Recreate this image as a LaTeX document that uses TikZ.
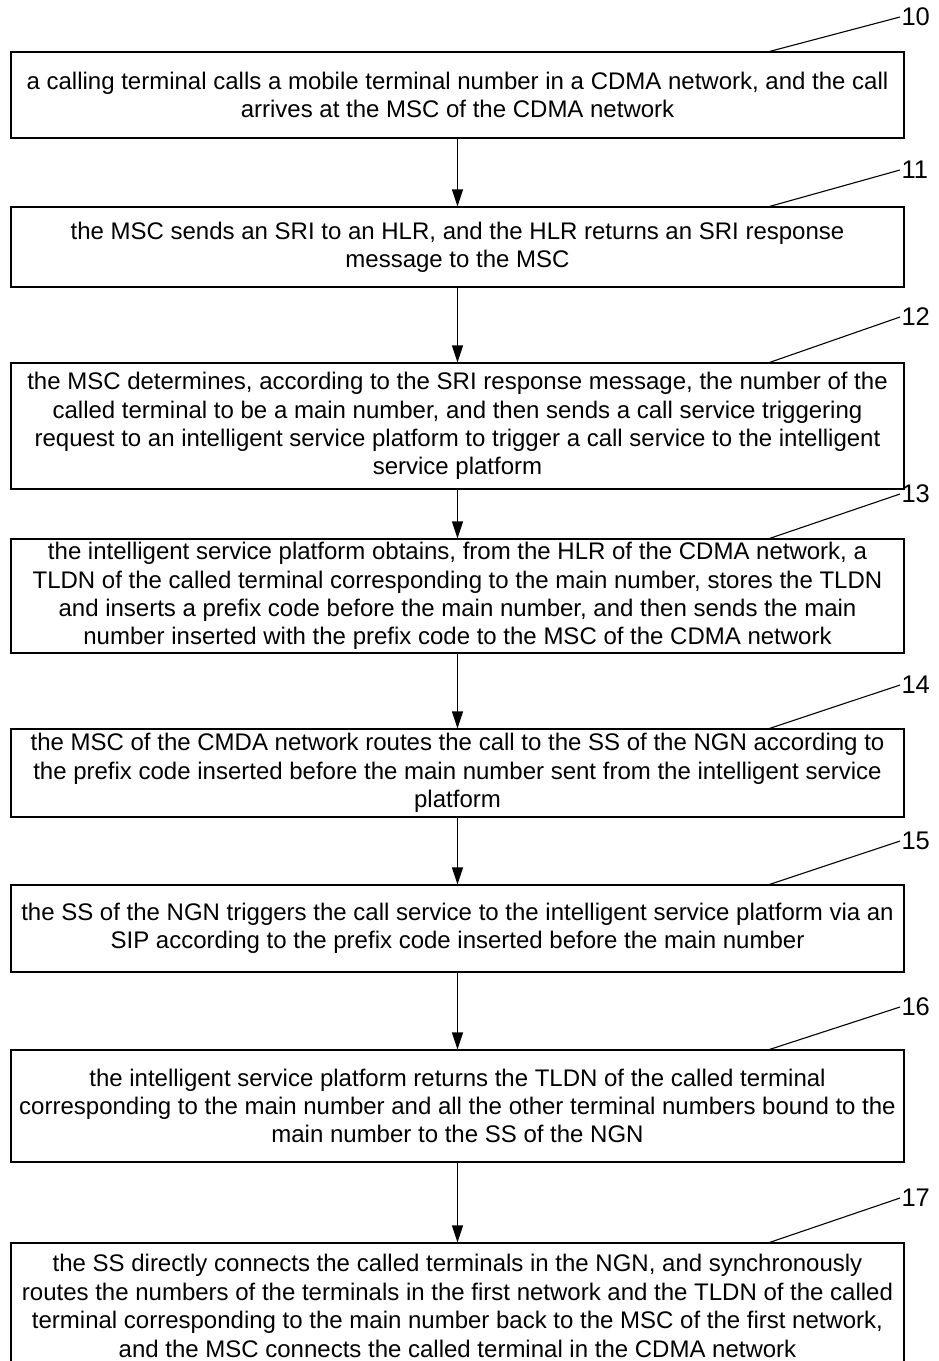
\documentclass[tikz,border=0pt]{standalone}
\usepackage{fontspec}
\setmainfont{Liberation Sans}
\usetikzlibrary{arrows.meta,positioning}

\begin{document}
\begin{tikzpicture}[->, >={Triangle[length=17pt,width=11pt]}, x=1pt, y=-1pt, line width=1.1pt]
	\tikzstyle{stepbox}=[draw=black,rectangle,minimum width=893pt,inner sep=0pt,align=center,font=\fontsize{24}{28.4}\selectfont]
	\tikzstyle{steplabel}=[anchor=west,inner sep=1pt,font=\fontsize{25.5}{28}\selectfont]
	\useasboundingbox (0,0) rectangle (938,1361);
	\node[stepbox,minimum height=86pt]  (B10) at (457.5,95)   {a calling terminal calls a mobile terminal number in a CDMA network, and the call\\arrives at the MSC of the CDMA network};
	\node[stepbox,minimum height=80pt]  (B11) at (457.5,247)  {the MSC sends an SRI to an HLR, and the HLR returns an SRI response\\message to the MSC};
	\node[stepbox,minimum height=126pt] (B12) at (457.5,426)  {the MSC determines, according to the SRI response message, the number of the\\called terminal to be a main number, and then sends a call service triggering\\request to an intelligent service platform to trigger a call service to the intelligent\\service platform};
	\node[stepbox,minimum height=114pt] (B13) at (457.5,596)  {the intelligent service platform obtains, from the HLR of the CDMA network, a\\TLDN of the called terminal corresponding to the main number, stores the TLDN\\and inserts a prefix code before the main number, and then sends the main\\number inserted with the prefix code to the MSC of the CDMA network};
	\node[stepbox,minimum height=88pt]  (B14) at (457.5,773)  {the MSC of the CMDA network routes the call to the SS of the NGN according to\\the prefix code inserted before the main number sent from the intelligent service\\platform};
	\node[stepbox,minimum height=87pt]  (B15) at (457.5,928.5) {the SS of the NGN triggers the call service to the intelligent service platform via an\\SIP according to the prefix code inserted before the main number};
	\node[stepbox,minimum height=112pt] (B16) at (457.5,1106) {the intelligent service platform returns the TLDN of the called terminal\\corresponding to the main number and all the other terminal numbers bound to the\\main number to the SS of the NGN};
	\node[stepbox,minimum height=126pt] (B17) at (457.5,1306) {the SS directly connects the called terminals in the NGN, and synchronously\\routes the numbers of the terminals in the first network and the TLDN of the called\\terminal corresponding to the main number back to the MSC of the first network,\\and the MSC connects the called terminal in the CDMA network};
	% step numbers
	\node[steplabel] (L10) at (900,17)   {10};
	\node[steplabel] (L11) at (900,170)  {11};
	\node[steplabel] (L12) at (900,317)  {12};
	\node[steplabel] (L13) at (900,494)  {13};
	\node[steplabel] (L14) at (900,685)  {14};
	\node[steplabel] (L15) at (900,841)  {15};
	\node[steplabel] (L16) at (900,1007) {16};
	\node[steplabel] (L17) at (900,1198) {17};
	\path[-]
	([xshift=312pt]B10.north) edge (L10.west)
	([xshift=312pt]B11.north) edge (L11.west)
	([xshift=312pt]B12.north) edge (L12.west)
	([xshift=312pt]B13.north) edge (L13.west)
	([xshift=312pt]B14.north) edge (L14.west)
	([xshift=312pt]B15.north) edge (L15.west)
	([xshift=312pt]B16.north) edge (L16.west)
	([xshift=312pt]B17.north) edge (L17.west);
	\path
	(B10) edge (B11)
	(B11) edge (B12)
	(B12) edge (B13)
	(B13) edge (B14)
	(B14) edge (B15)
	(B15) edge (B16)
	(B16) edge (B17);
\end{tikzpicture}
\end{document}
